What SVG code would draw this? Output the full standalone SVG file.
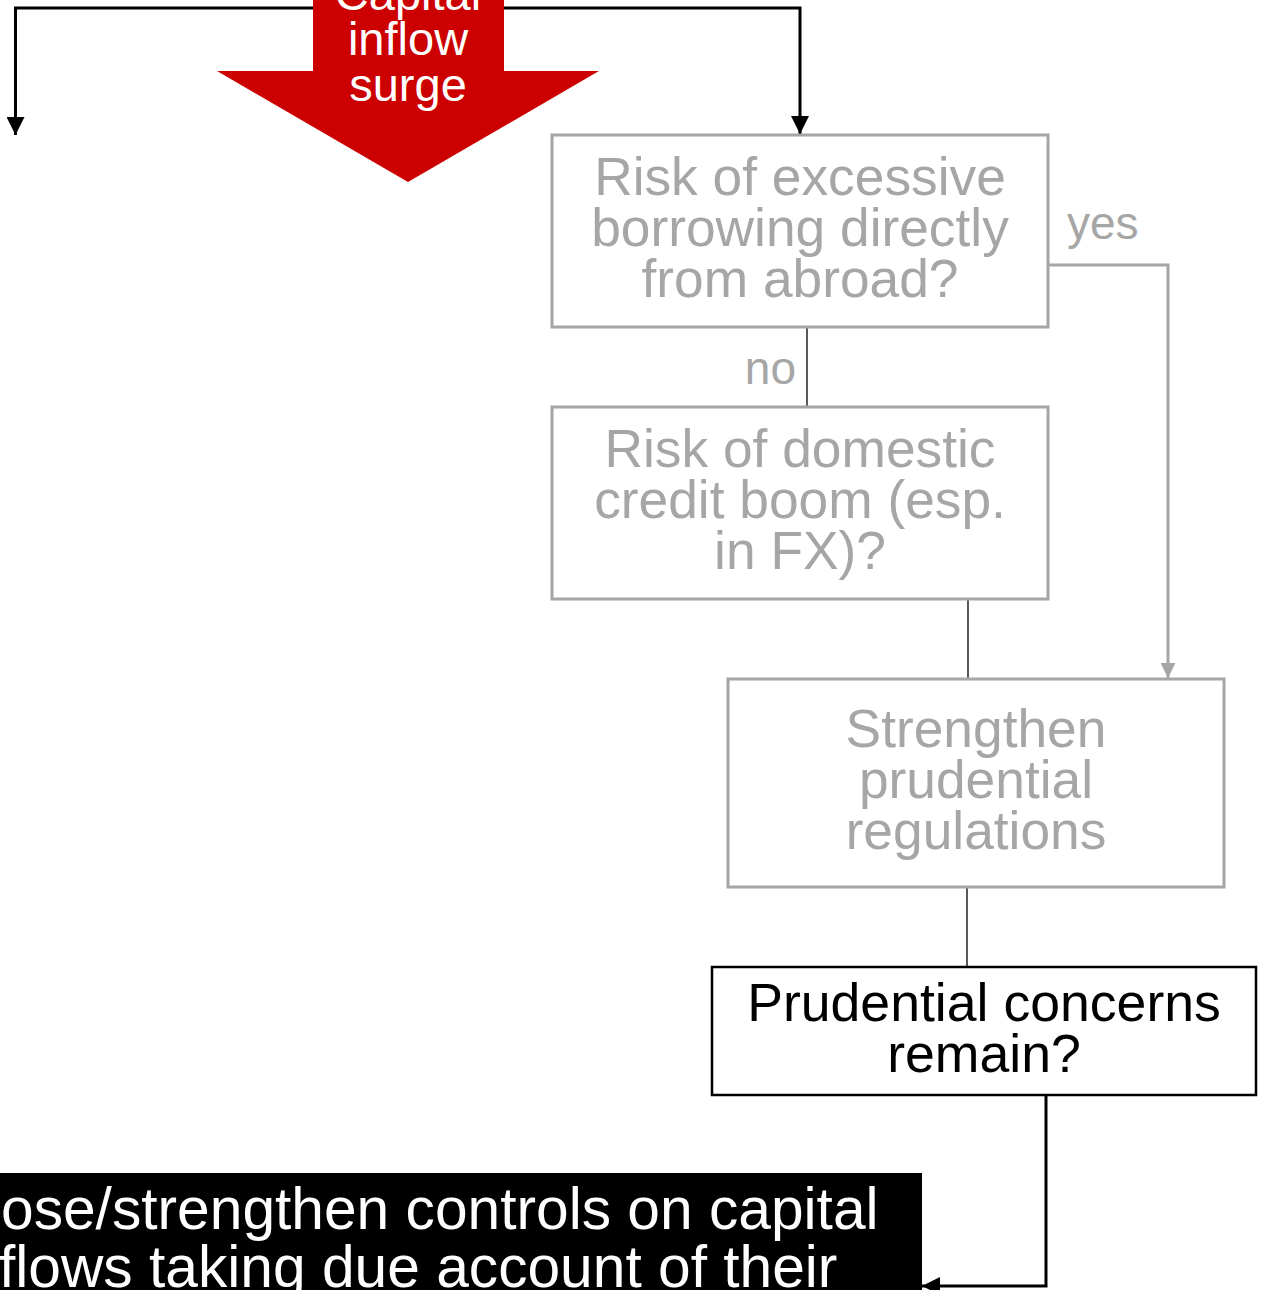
<svg xmlns="http://www.w3.org/2000/svg" width="1262" height="1290" viewBox="0 0 1262 1290">
  <style>
    text { font-family: "Liberation Sans", Arial, sans-serif; text-anchor: middle; }
    .grey-box { fill: #ffffff; stroke: #a6a6a6; stroke-width: 3; }
    .grey-text { fill: #a6a6a6; font-size: 53.3px; }
    .dark-box { fill: #ffffff; stroke: #000000; stroke-width: 2.5; }
    .dark-text { fill: #000000; font-size: 53.6px; }
    .label { fill: #a6a6a6; font-size: 46px; }
    .flow { fill: none; stroke: #000000; stroke-width: 3; }
    .thin { fill: none; stroke: #000000; stroke-width: 1.3; }
    .grey-flow { fill: none; stroke: #a6a6a6; stroke-width: 3; }
  </style>
  <defs>
    <marker id="arrow-black" viewBox="0 0 10 10" refX="10" refY="5" markerWidth="6" markerHeight="6" markerUnits="strokeWidth" orient="auto">
      <path d="M0,0 L10,5 L0,10 Z" fill="#000000"/>
    </marker>
    <marker id="arrow-grey" viewBox="0 0 10 10" refX="10" refY="5" markerWidth="5" markerHeight="5" markerUnits="strokeWidth" orient="auto">
      <path d="M0,0 L10,5 L0,10 Z" fill="#a6a6a6"/>
    </marker>
  </defs>

  <!-- connectors -->
  <g id="connectors">
    <path class="flow" d="M313,8 H15.5 V135" marker-end="url(#arrow-black)"/>
    <path class="flow" d="M503,8 H800 V134" marker-end="url(#arrow-black)"/>
    <line class="thin" x1="807" y1="327" x2="807" y2="407"/>
    <text class="label" x="796" y="384" style="text-anchor:end">no</text>
    <path class="grey-flow" d="M1048,265 H1168 V678" marker-end="url(#arrow-grey)"/>
    <text class="label" x="1067" y="239" style="text-anchor:start">yes</text>
    <line class="thin" x1="968" y1="599" x2="968" y2="679"/>
    <line class="thin" x1="967" y1="887" x2="967" y2="967"/>
    <path class="flow" d="M1046,1095 V1286 H922" marker-end="url(#arrow-black)"/>
  </g>

  <!-- capital inflow surge arrow -->
  <g id="surge">
    <path d="M313,0 H504 V71 H599 L408,182 L217,71 H313 Z" fill="#cc0000"/>
    <text x="408" y="10" fill="#ffffff" font-size="47">Capital</text>
    <text x="408" y="55" fill="#ffffff" font-size="47">inflow</text>
    <text x="408" y="101" fill="#ffffff" font-size="47">surge</text>
  </g>

  <g id="borrowing-risk">
    <rect class="grey-box" x="552" y="135" width="496" height="192"/>
    <text class="grey-text" x="800" y="195">Risk of excessive</text>
    <text class="grey-text" x="800" y="246">borrowing directly</text>
    <text class="grey-text" x="800" y="297">from abroad?</text>
  </g>

  <g id="credit-boom-risk">
    <rect class="grey-box" x="552" y="407" width="496" height="192"/>
    <text class="grey-text" x="800" y="467">Risk of domestic</text>
    <text class="grey-text" x="800" y="518">credit boom (esp.</text>
    <text class="grey-text" x="800" y="569">in FX)?</text>
  </g>

  <g id="prudential-regulations">
    <rect class="grey-box" x="728" y="679" width="496" height="208"/>
    <text class="grey-text" x="976" y="747">Strengthen</text>
    <text class="grey-text" x="976" y="798">prudential</text>
    <text class="grey-text" x="976" y="849">regulations</text>
  </g>

  <g id="prudential-concerns">
    <rect class="dark-box" x="712" y="967" width="544" height="128"/>
    <text class="dark-text" x="984" y="1021">Prudential concerns</text>
    <text class="dark-text" x="984" y="1072">remain?</text>
  </g>

  <g id="capital-controls">
    <rect x="-10" y="1173" width="932" height="130" fill="#000000"/>
    <text x="1" y="1229" fill="#ffffff" font-size="58.7" style="text-anchor:start">ose/strengthen controls on capital</text>
    <text x="-1" y="1287" fill="#ffffff" font-size="58.7" style="text-anchor:start">flows taking due account of their</text>
  </g>
</svg>
